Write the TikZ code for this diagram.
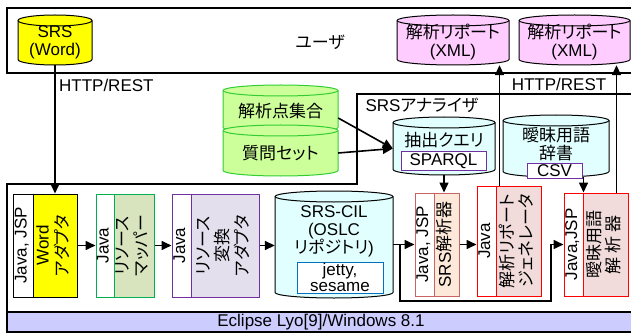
\documentclass[tikz,border=0pt]{standalone}
\usepackage{fontspec}
\setmainfont{Liberation Sans}
\newfontfamily\jpfont[RawFeature=+palt]{Noto Sans CJK JP}
\newcommand{\ja}[1]{{\jpfont #1}}
\newcommand{\vtext}[1]{\rotatebox{90}{\begin{tabular}{@{}c@{}}#1\end{tabular}}}
% cylinder: [style]{name}{x}{y}{width}{height}{text}
\newcommand{\drum}[7][]{%
 \path[draw, line width=1pt, #1] ({#3-#5/2},{#4+#6/2-5.5}) -- ({#3-#5/2},{#4-#6/2+5.5})
  arc[start angle=180, end angle=360, x radius=#5/2, y radius=5.5]
  -- ({#3+#5/2},{#4+#6/2-5.5})
  arc[start angle=0, end angle=180, x radius=#5/2, y radius=5.5] -- cycle;
 \path[draw, line width=1pt, #1, fill=none] ({#3+#5/2},{#4+#6/2-5.5})
  arc[start angle=0, end angle=-180, x radius=#5/2, y radius=5.5];
 \node[inner sep=0pt, align=center, minimum width=#5pt, minimum height=#6pt-5pt] (#2) at (#3,{#4-2.5}) {#7};
}
\usetikzlibrary{arrows.meta, calc}

\definecolor{wordfill}{HTML}{FFFF00}
\definecolor{repfill}{HTML}{FFCCFF}
\definecolor{qfill}{HTML}{CCFF99}
\definecolor{qline}{HTML}{33CC33}
\definecolor{dbfill}{HTML}{E1FFFF}
\definecolor{fmtline}{HTML}{7030A0}
\definecolor{storeline}{HTML}{0070C0}
\definecolor{mapfill}{HTML}{D7E4BD}
\definecolor{mapline}{HTML}{00B050}
\definecolor{convfill}{HTML}{E4DFEC}
\definecolor{convline}{HTML}{7030A0}
\definecolor{srsfill}{HTML}{FDE9D9}
\definecolor{srsline}{HTML}{C86464}
\definecolor{genfill}{HTML}{F2DCDB}
\definecolor{genline}{HTML}{FF0000}
\definecolor{barfill}{HTML}{CCCCFF}

\begin{document}
\begin{tikzpicture}[
 x=1pt, y=1pt,
 font=\fontsize{17}{18}\selectfont,
 conn/.style={line width=1.6pt, -{Triangle[length=10pt, width=9pt]}},
 col/.style={draw, line width=1pt, minimum height=103pt, inner sep=0pt},
 fmt/.style={draw, fill=white, line width=1pt, inner sep=0pt, align=center},
 frame/.style={draw, line width=1.8pt}
]
\useasboundingbox (0,0) rectangle (631,335);
\clip (0,0) rectangle (631,335);

% user side
\draw[frame] (7,262) rectangle (645,327);
\node (user) at (320,293) {\ja{ユーザ}};
\drum[fill=wordfill]{srsword}{55}{295}{74}{50}{SRS\\(Word)}
\drum[fill=repfill]{report1}{453}{295}{112}{50}{\ja{解析リポート}\\(XML)}
\drum[fill=repfill]{report2}{574.5}{295}{111}{50}{\ja{解析リポート}\\(XML)}
\node (http) at (559,251) {HTTP/REST};

% platform and analyzer
\draw[frame] (645,241) -- (357,241) -- (357,151) -- (7,151) -- (7,3) -- (645,3);
\draw[frame, fill=barfill] (7,3) rectangle (645,23);
\node (lyo) at (321,13) {Eclipse Lyo[9]/Windows 8.1};
\node[anchor=west] (analyzer) at (362,230) {SRS\ja{アナライザ}};

% inputs
\drum[draw=qline, fill=qfill]{points}{280.5}{226}{115}{48}{\ja{解析点集合}}
\drum[draw=qline, fill=qfill]{questions}{280.5}{184.5}{115}{51}{\ja{質問セット}}

\drum[fill=dbfill]{query}{444}{189}{102}{58}{}
\node (qtitle) at (444,195) {\ja{抽出クエリ}};
\node[fmt, draw=fmtline, minimum width=85pt, minimum height=18pt] (sparql) at (443.5,174) {SPARQL};

\drum[fill=dbfill]{dict}{556}{189}{106}{62}{}
\node[align=center] (dtitle) at (556,190.5) {\ja{曖昧用語}\\\ja{辞書}};
\node[fmt, draw=fmtline, minimum width=55pt, minimum height=15pt] (csv) at (554.5,164.5) {CSV};

% components
\node[col, fill=white, minimum width=20pt] (wordjava) at (23,89.5) {\vtext{Java, JSP}};
\node[col, fill=wordfill, minimum width=44pt] (wordad) at (55,89.5) {\vtext{Word\\\ja{アダプタ}}};

\node[col, draw=mapline, fill=white, minimum width=18pt] (mapjava) at (105,89.5) {\vtext{Java}};
\node[col, draw=mapline, fill=mapfill, minimum width=40pt] (mapper) at (134,89.5) {\vtext{\ja{リソース}\\\ja{マッパー}}};

\node[col, draw=convline, fill=white, minimum width=19pt] (convjava) at (181.5,89.5) {\vtext{Java}};
\node[col, draw=convline, fill=convfill, minimum width=68pt] (convad) at (225,89.5) {\vtext{\ja{リソース}\\\ja{変換}\\\ja{アダプタ}}};

\drum[fill=dbfill]{cil}{334}{90.5}{118}{107}{}
\node[align=center] (ciltitle) at (334,104) {SRS-CIL\\(OSLC\\\ja{リポジトリ})};
\node[fmt, draw=storeline, minimum width=86pt, minimum height=31pt, font=\fontsize{17}{16}\selectfont] (store) at (340,57.5) {jetty,\\sesame};

\node[col, draw=srsline, fill=white, minimum width=19pt] (srsjava) at (424.5,90.5) {\vtext{Java, JSP}};
\node[col, draw=srsline, fill=srsfill, minimum width=25pt] (srsan) at (446.5,90.5) {\vtext{SRS\ja{解析器}}};

\node[col, draw=genline, fill=white, minimum width=19pt, minimum height=110pt] (genjava) at (486.5,94) {\vtext{Java}};
\node[col, draw=genline, fill=genfill, minimum width=45pt, minimum height=110pt] (gen) at (518.5,94) {\vtext{\ja{解析リポート}\\\ja{ジェネレータ}}};

\node[col, draw=genline, fill=white, minimum width=19pt] (ambjava) at (573.5,90.5) {\vtext{Java,JSP}};
\node[col, draw=genline, fill=genfill, minimum width=45pt] (amban) at (605.5,90.5) {\vtext{\ja{曖昧用語}\\\ja{解\hspace{4pt}析\hspace{4pt}器}}};

% connectors
\draw[conn] (srsword.south) -- node[right, pos=0.16] (http0) {HTTP/REST} (wordad.north);
\draw[conn] ([yshift=-6.5pt]points.east) -- (query.west);
\draw[conn] (questions.east) -- (query.west);
\draw[conn] (wordad.east) -- (mapjava.west);
\draw[conn] (mapper.east) -- (convjava.west);
\draw[conn] (convad.east) -- (convad.east -| cil.west);
\draw[conn] (srsjava.west -| cil.east) -- (srsjava.west);
\coordinate (split) at ($(srsjava.west -| cil.east)+(7,0)$);
\coordinate (loop) at (551,34);
\draw[conn] (split) |- (loop) |- (ambjava.west);
\draw[conn] (srsan.east) -- (srsan.east -| genjava.west);
\draw[conn] (query.south) -- (query.south |- srsan.north);
\draw[conn] (dict.south -| ambjava.north east) -- (ambjava.north east);
\coordinate (genup) at ($(gen.north west)+(4,0)$);
\draw[conn] (genup) -- (genup |- report1.south);
\coordinate (ambup) at ($(amban.north east)+(-12,0)$);
\draw[conn] (ambup) -- (ambup |- report2.south);
\end{tikzpicture}
\end{document}
